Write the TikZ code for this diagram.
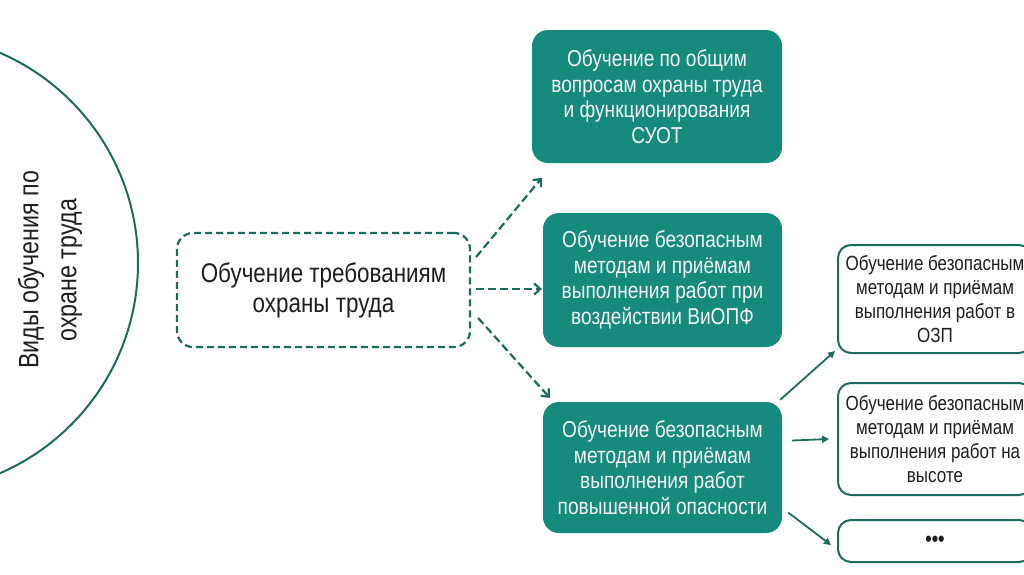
\documentclass[tikz,border=0pt]{standalone}
\usepackage{fontspec}
\setmainfont[FakeStretch=0.83]{Liberation Sans}
\usetikzlibrary{arrows.meta}
\definecolor{tealfill}{HTML}{168A7D}
\definecolor{darkteal}{HTML}{1C6B5F}
\definecolor{txtdark}{HTML}{1E1E1E}
\definecolor{txtlight}{HTML}{F4F4F4}
\begin{document}
\begin{tikzpicture}[x=1pt,y=-1pt,
  tealbox/.style={rectangle, rounded corners=16pt, fill=tealfill, draw=none,
    text=txtlight, align=center, inner sep=0pt,
    font=\fontsize{23}{25.5}\selectfont},
  dashbox/.style={rectangle, rounded corners=16pt, draw=darkteal, line width=2.2pt,
    dash pattern=on 7pt off 4pt, text=txtdark, align=center, inner sep=0pt,
    font=\fontsize{27}{30}\selectfont},
  whitebox/.style={rectangle, rounded corners=13pt, draw=darkteal, line width=2pt,
    fill=white, text=txtdark, align=center, inner sep=0pt,
    font=\fontsize{20.5}{24}\selectfont},
  dasharrow/.style={draw=darkteal, line width=2.2pt, dash pattern=on 8pt off 4pt,
    -{Straight Barb[length=6pt,width=11pt,line width=2.2pt]}},
  solidarrow/.style={draw=darkteal, line width=1.8pt,
    -{Triangle[length=7pt,width=7pt]}}
]
\useasboundingbox (0,0) rectangle (1024,574);
\clip (0,0) rectangle (1024,574);
\fill[white] (0,0) rectangle (1024,574);

% big arc
\draw[darkteal, line width=2pt] (-91,263) circle[radius=229pt];
\node[rotate=90, align=center, text=txtdark, font=\fontsize{28}{38}\selectfont]
  (kinds) at (50,270) {Виды обучения по\\охране труда};

% dashed box
\node[dashbox, minimum width=293pt, minimum height=114pt] (req) at (323.5,290)
  {Обучение требованиям\\охраны труда};

% teal boxes
\node[tealbox, minimum width=250pt, minimum height=133pt] (gen) at (657,96.5)
  {Обучение по общим\\вопросам охраны труда\\и функционирования\\СУОТ};
\node[tealbox, minimum width=239pt, minimum height=134pt] (harm) at (662.5,280)
  {Обучение безопасным\\методам и приёмам\\выполнения работ при\\воздействии ВиОПФ};
\node[tealbox, minimum width=239pt, minimum height=131pt] (high) at (662.5,467.5)
  {Обучение безопасным\\методам и приёмам\\выполнения работ\\повышенной опасности};

% white boxes
\node[whitebox, minimum width=194pt, minimum height=108pt] (ozp) at (935,299)
  {Обучение безопасным\\методам и приёмам\\выполнения работ в\\ОЗП};
\node[whitebox, minimum width=194pt, minimum height=112pt] (alt) at (935,439)
  {Обучение безопасным\\методам и приёмам\\выполнения работ на\\высоте};
\node[whitebox, minimum width=194pt, minimum height=42pt] (more) at (935,541)
  {\textbf{\fontsize{22}{22}\selectfont •••}};

% dashed arrows
\draw[dasharrow] ([xshift=5pt,yshift=33pt]req.east) -- ([xshift=-1pt,yshift=35pt]harm.north west);
\draw[dasharrow] ([xshift=5pt,yshift=1pt]req.east) -- ([xshift=-1pt,yshift=-9pt]harm.west);
\draw[dasharrow] ([xshift=7pt,yshift=-28pt]req.east) -- ([xshift=7pt,yshift=4pt]high.north west);

% solid arrows
\draw[solidarrow] ([xshift=-2pt,yshift=2pt]high.north east) -- ([xshift=-2pt,yshift=3pt]ozp.south west);
\draw[solidarrow] ([xshift=10pt,yshift=27pt]high.east) -- ([xshift=-8pt,yshift=0pt]alt.west);
\draw[solidarrow] ([xshift=6pt,yshift=-45pt]high.east) -- ([xshift=-6pt,yshift=-4pt]more.west);
\end{tikzpicture}
\end{document}
